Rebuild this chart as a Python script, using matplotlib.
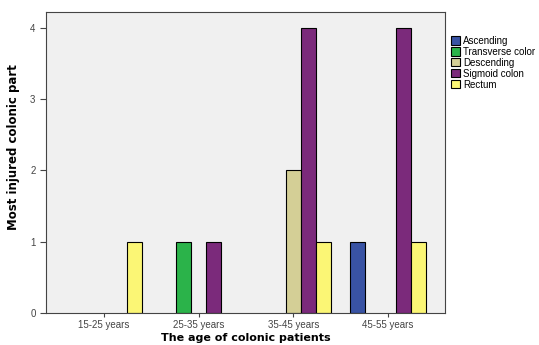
import numpy as np
import matplotlib
matplotlib.use("Agg")
import matplotlib.pyplot as plt

age_groups = ["15-25 years", "25-35 years", "35-45 years", "45-55 years"]
parts = ["Ascending", "Transverse color", "Descending", "Sigmoid colon", "Rectum"]
ascending = [0, 0, 0, 1]
transverse = [0, 1, 0, 0]
descending = [0, 0, 2, 0]
sigmoid = [0, 1, 4, 4]
rectum = [1, 0, 1, 1]
colors = ["#3953a4", "#2bb34a", "#d4cf96", "#7b2a7b", "#fbf675"]

series = [ascending, transverse, descending, sigmoid, rectum]

plt.rcParams["font.family"] = ["Liberation Sans", "DejaVu Sans"]

fig = plt.figure(figsize=(5.39, 3.45), dpi=100)
ax = fig.add_axes([0.0853, 0.0928, 0.7403, 0.8725])
ax.set_facecolor("#f0f0f0")

x = np.arange(len(age_groups))
width = 0.16
for i, (vals, name, col) in enumerate(zip(series, parts, colors)):
    vals = np.array(vals, dtype=float)
    keep = vals > 0
    ax.bar(x[keep] + (i - 2) * width, vals[keep], width, color=col,
           edgecolor="black", linewidth=0.8, label=name)

ax.set_xlim(-0.61, 3.6)
ax.set_ylim(0, 4.22)
ax.set_yticks([0, 1, 2, 3, 4])
ax.set_xticks(x)
ax.set_xticklabels(age_groups)
ax.tick_params(axis="both", labelsize=7, colors="#444444", length=4, width=0.8)
ax.tick_params(axis="x", length=3, pad=2)
for s in ax.spines.values():
    s.set_color("#444444")
    s.set_linewidth(0.8)

ax.set_xlabel("The age of colonic patients", fontsize=8, fontweight="bold",
              family="DejaVu Sans", va="bottom")
ax.xaxis.set_label_coords(0.5, -0.1)
ax.set_ylabel("Most injured colonic part", fontsize=8.5, fontweight="bold",
              family="DejaVu Sans")
ax.yaxis.set_label_coords(-0.065, 0.55)

leg = ax.legend(loc="upper left", bbox_to_anchor=(1.0, 0.94), frameon=False,
                fontsize=7, handlelength=0.9, handleheight=0.9,
                handletextpad=0.4, labelspacing=0.1, borderaxespad=0.2)

fig.savefig("out.png", dpi=100)
